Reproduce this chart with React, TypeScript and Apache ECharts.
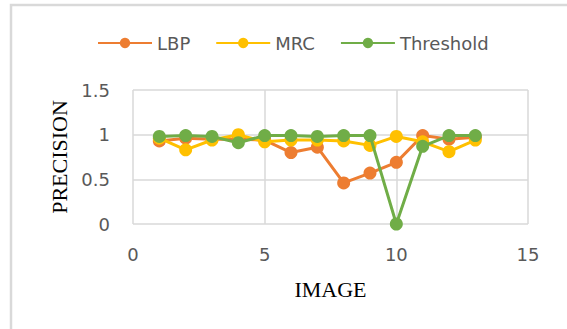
import React, { useEffect, useRef } from "react";
import * as echarts from "echarts";

const images = [1, 2, 3, 4, 5, 6, 7, 8, 9, 10, 11, 12, 13];
const lbp = [0.93, 0.96, 0.95, 0.95, 0.94, 0.8, 0.86, 0.46, 0.57, 0.69, 0.99, 0.95, 0.97];
const mrc = [0.96, 0.83, 0.94, 1.0, 0.92, 0.94, 0.94, 0.93, 0.88, 0.98, 0.92, 0.81, 0.94];
const threshold = [0.98, 0.99, 0.98, 0.91, 0.99, 0.99, 0.98, 0.99, 0.99, 0.0, 0.87, 0.99, 0.99];
const seriesNames = ["LBP", "MRC", "Threshold"];
const colors = ["#ED7D31", "#FFC000", "#70AD47"];

export default function App() {
  const ref = useRef<HTMLDivElement>(null);
  useEffect(() => {
    const chart = echarts.init(ref.current!, null, { renderer: "svg" });
    const datasets = [lbp, mrc, threshold];
    chart.setOption({
      animation: false,
      backgroundColor: "#ffffff",
      graphic: [
        {
          type: "rect",
          shape: { x: 11, y: 5, width: 700, height: 500 },
          style: { fill: "none", stroke: "#d9d9d9", lineWidth: 2.5 },
          silent: true,
        },
      ],
      legend: {
        top: 29,
        left: 92,
        itemWidth: 54,
        itemHeight: 13,
        itemGap: 25,
        textStyle: { fontFamily: "DejaVu Sans", fontSize: 18, color: "#595959" },
        data: seriesNames,
      },
      grid: { left: 133, right: 39, top: 90, bottom: 105 },
      xAxis: {
        type: "value",
        min: 0,
        max: 15,
        interval: 5,
        name: "IMAGE",
        nameLocation: "middle",
        nameGap: 54,
        nameTextStyle: { fontFamily: "Liberation Serif", fontSize: 22, color: "#000" },
        axisLine: { show: false },
        axisTick: { show: false },
        axisLabel: { margin: 21, fontFamily: "DejaVu Sans", fontSize: 18, color: "#595959" },
        splitLine: { show: true, lineStyle: { color: "#d9d9d9", width: 1.5 } },
      },
      yAxis: {
        type: "value",
        min: 0,
        max: 1.5,
        interval: 0.5,
        name: "PRECISION",
        nameLocation: "middle",
        nameGap: 61,
        nameTextStyle: { fontFamily: "Liberation Serif", fontSize: 22, color: "#000" },
        axisLine: { show: false },
        axisTick: { show: false },
        axisLabel: { margin: 23, fontFamily: "DejaVu Sans", fontSize: 18, color: "#595959" },
        splitLine: { show: true, lineStyle: { color: "#d9d9d9", width: 1.5 } },
      },
      series: seriesNames.map((name, i) => ({
        name,
        type: "line",
        data: images.map((x, j) => [x, datasets[i][j]]),
        symbol: "circle",
        symbolSize: 13,
        lineStyle: { width: 3, color: colors[i] },
        itemStyle: { color: colors[i] },
        z: 2 + i,
      })),
    });
    return () => chart.dispose();
  }, []);
  return (
    <div
      ref={ref}
      style={{ position: "absolute", left: 0, top: 0, width: 567, height: 329 }}
    />
  );
}
